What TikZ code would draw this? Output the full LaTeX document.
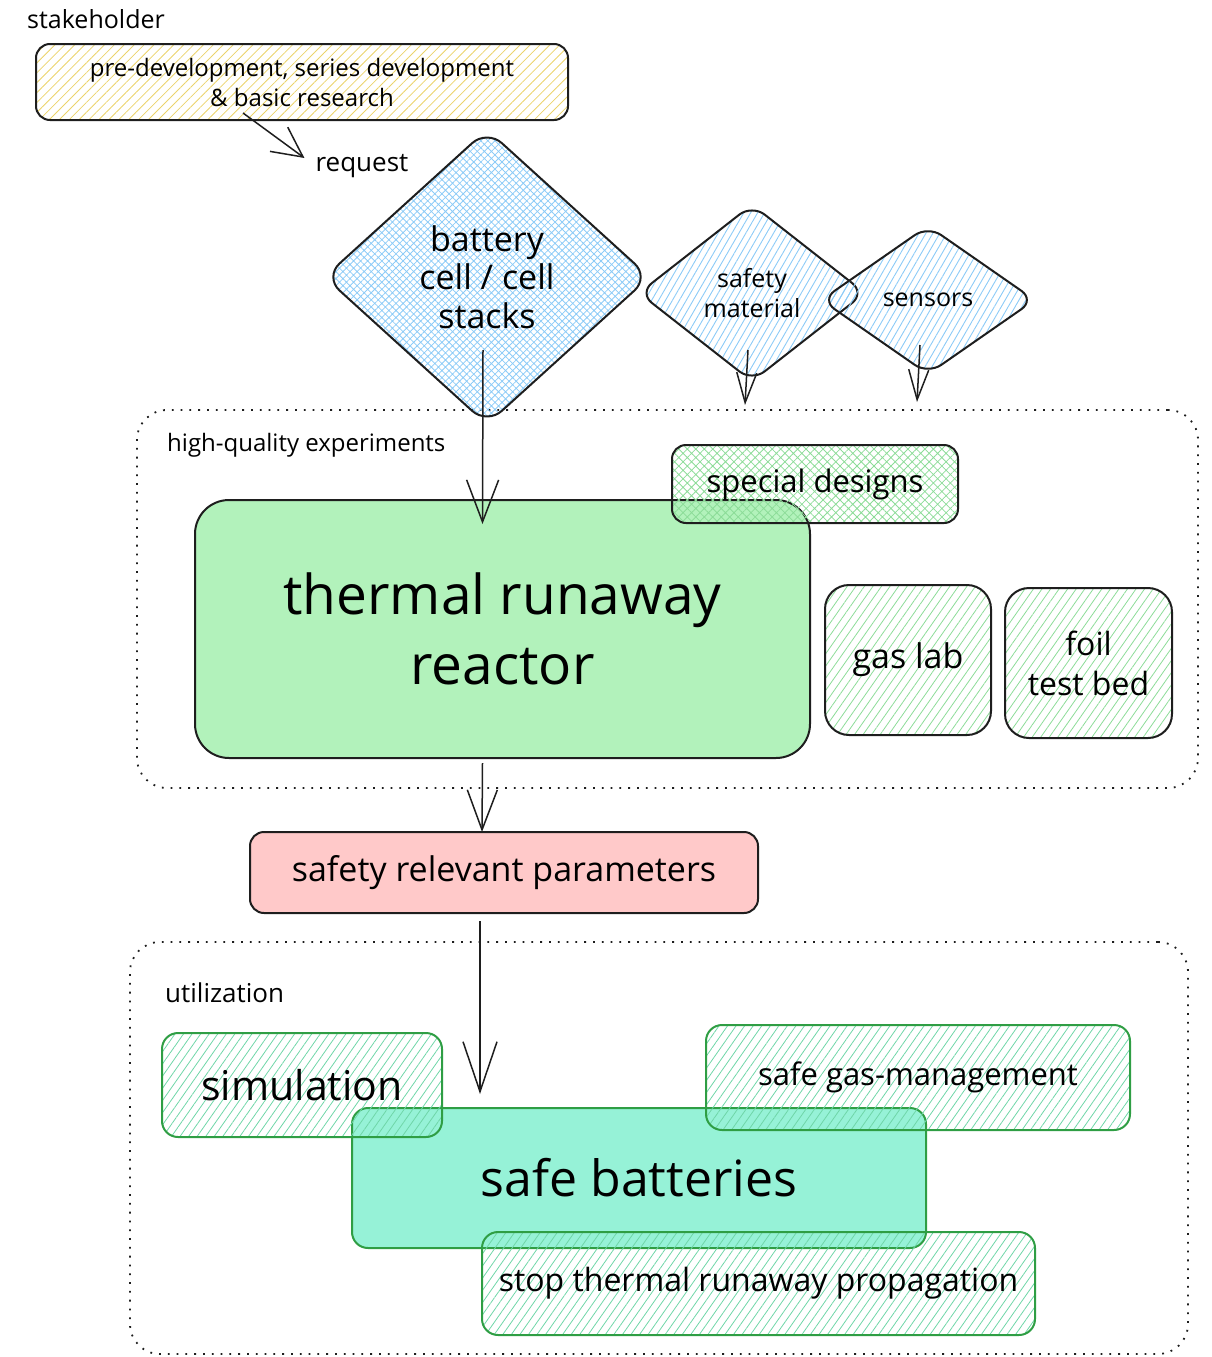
\documentclass[tikz,border=0pt]{standalone}
\usepackage{fontspec}
\setmainfont{Open Sans}
\usetikzlibrary{patterns.meta,shapes.geometric,arrows.meta,calc}
\newcommand\fsz[2]{\fontsize{#1}{#2}\selectfont}
\definecolor{ink}{HTML}{1E1E1E}
\definecolor{yelline}{HTML}{EBD36A}
\definecolor{bluline}{HTML}{8CCBF7}
\definecolor{grnline}{HTML}{8CDC98}
\definecolor{grnfill}{HTML}{B2F2BB}
\definecolor{tealfill}{HTML}{96F2D7}
\definecolor{tealline}{HTML}{6FD6A8}
\definecolor{gstroke}{HTML}{2F9E44}
\definecolor{pinkfill}{HTML}{FFC9C9}
\begin{document}
\begin{tikzpicture}[x=1pt,y=-1pt,
  box/.style={draw=ink,line width=2pt,rounded corners=14pt,align=center,inner sep=0pt},
  gbox/.style={draw=gstroke,line width=2pt,rounded corners=16pt,align=center,inner sep=0pt},
  dia/.style={diamond,draw=ink,line width=2pt,rounded corners=16pt,align=center,inner sep=0pt},
  dotbox/.style={draw=ink,line width=1.8pt,dash pattern=on 1.8pt off 7pt,rounded corners=30pt,inner sep=0pt},
  hatchY/.style={pattern={Lines[angle=45,distance=7pt,line width=0.8pt]},pattern color=yelline},
  hatchB/.style={pattern={Lines[angle=60,distance=6pt,line width=0.9pt]},pattern color=bluline},
  crossB/.style={pattern={Hatch[angle=45,distance=5pt,line width=0.8pt]},pattern color=bluline},
  crossG/.style={pattern={Hatch[angle=45,distance=6pt,line width=0.8pt]},pattern color=grnline},
  hatchG/.style={pattern={Lines[angle=55,distance=7pt,line width=0.8pt]},pattern color=grnline},
  hatchT/.style={pattern={Lines[angle=55,distance=7pt,line width=0.8pt]},pattern color=tealline},
  lbl/.style={anchor=west,inner sep=0pt},
  arr/.style={draw=ink,line width=1.5pt},
]
\useasboundingbox (0,0) rectangle (1211,1357);

% containers
\node[dotbox,minimum width=1061pt,minimum height=378pt] (exp) at (667.5,599) {};
\node[dotbox,minimum width=1058pt,minimum height=412pt] (util) at (659,1148) {};

% stakeholder
\node[lbl,font=\fsz{25}{30}] (stakelbl) at (27,19) {stakeholder};
\node[box,hatchY,minimum width=532pt,minimum height=76pt,font=\fsz{24}{30}] (stake) at (302,82)
  {pre-development, series development\\\& basic research};
\node[inner sep=0pt,font=\fsz{26}{30}] (req) at (362,166) {request};

% diamonds
\node[dia,crossB,minimum width=325pt,minimum height=295pt,rounded corners=20pt,font=\fsz{34}{38.5}] (batt) at (487,277)
  {battery\\cell / cell\\stacks};
\node[dia,hatchB,minimum width=226pt,minimum height=177pt,font=\fsz{25}{30}] (safety) at (752,293)
  {safety\\material};
\node[dia,hatchB,minimum width=214pt,minimum height=149pt,font=\fsz{25}{30}] (sensors) at (928,300)
  {sensors};

% experiments
\node[lbl,font=\fsz{24}{28}] (explbl) at (167,445) {high-quality experiments};
\node[box,fill=grnfill,rounded corners=34pt,minimum width=615pt,minimum height=258pt,font=\fsz{55}{70}] (reactor) at (502.5,629)
  {thermal runaway\\reactor};
\node[box,crossG,minimum width=286pt,minimum height=78pt,font=\fsz{31}{34}] (special) at (815,484)
  {special designs};
\node[box,hatchG,rounded corners=24pt,minimum width=166pt,minimum height=150pt,font=\fsz{34}{38}] (gas) at (908,660)
  {gas lab};
\node[box,hatchG,rounded corners=24pt,minimum width=167pt,minimum height=150pt,font=\fsz{32}{40}] (foil) at (1088.5,663)
  {foil\\test bed};

% parameters
\node[box,fill=pinkfill,minimum width=508pt,minimum height=81pt,font=\fsz{34}{38}] (params) at (504,872.5)
  {safety relevant parameters};

% utilization
\node[lbl,font=\fsz{26}{30}] (utillbl) at (165,993) {utilization};
\node[gbox,fill=tealfill,minimum width=574pt,minimum height=140pt,font=\fsz{50}{56}] (safebat) at (639,1178)
  {safe batteries};
\node[gbox,hatchT,minimum width=280pt,minimum height=104pt,font=\fsz{41}{46}] (sim) at (302,1085)
  {simulation};
\node[gbox,hatchT,minimum width=424pt,minimum height=105pt,font=\fsz{31}{36}] (gasman) at (918,1077.5)
  {safe gas-management};
\node[gbox,hatchT,minimum width=553pt,minimum height=103pt,font=\fsz{32}{36}] (stop) at (758.5,1283.5)
  {stop thermal runaway propagation};

% connectors
\draw[arr,-{Straight Barb[length=30pt,width=30pt,line width=1.5pt]}]
  ($(stake.center)+(-59,31)$) -- ($(req.west)+(-11,-8)$);
\draw[arr,-{Straight Barb[length=42pt,width=32pt,line width=1.5pt]}]
  ($(batt.center)+(-4,73)$) -- ($(reactor.north)+(-20,25)$);
\draw[arr,-{Straight Barb[length=30pt,width=20pt,line width=1.5pt]}]
  ($(safety.center)+(-4,57)$) -- ($(safety.center)+(-7,112)$);
\draw[arr,-{Straight Barb[length=30pt,width=20pt,line width=1.5pt]}]
  ($(sensors.center)+(-8,45)$) -- ($(sensors.center)+(-11,102)$);
\draw[arr,-{Straight Barb[length=40pt,width=30pt,line width=1.5pt]}]
  ($(reactor.south)+(-20,4)$) -- ($(params.north)+(-22,1)$);
\draw[arr,-{Straight Barb[length=50pt,width=34pt,line width=1.5pt]}]
  ($(params.south)+(-24,7)$) -- ($(safebat.north)+(-159,-13)$);
\end{tikzpicture}
\end{document}
